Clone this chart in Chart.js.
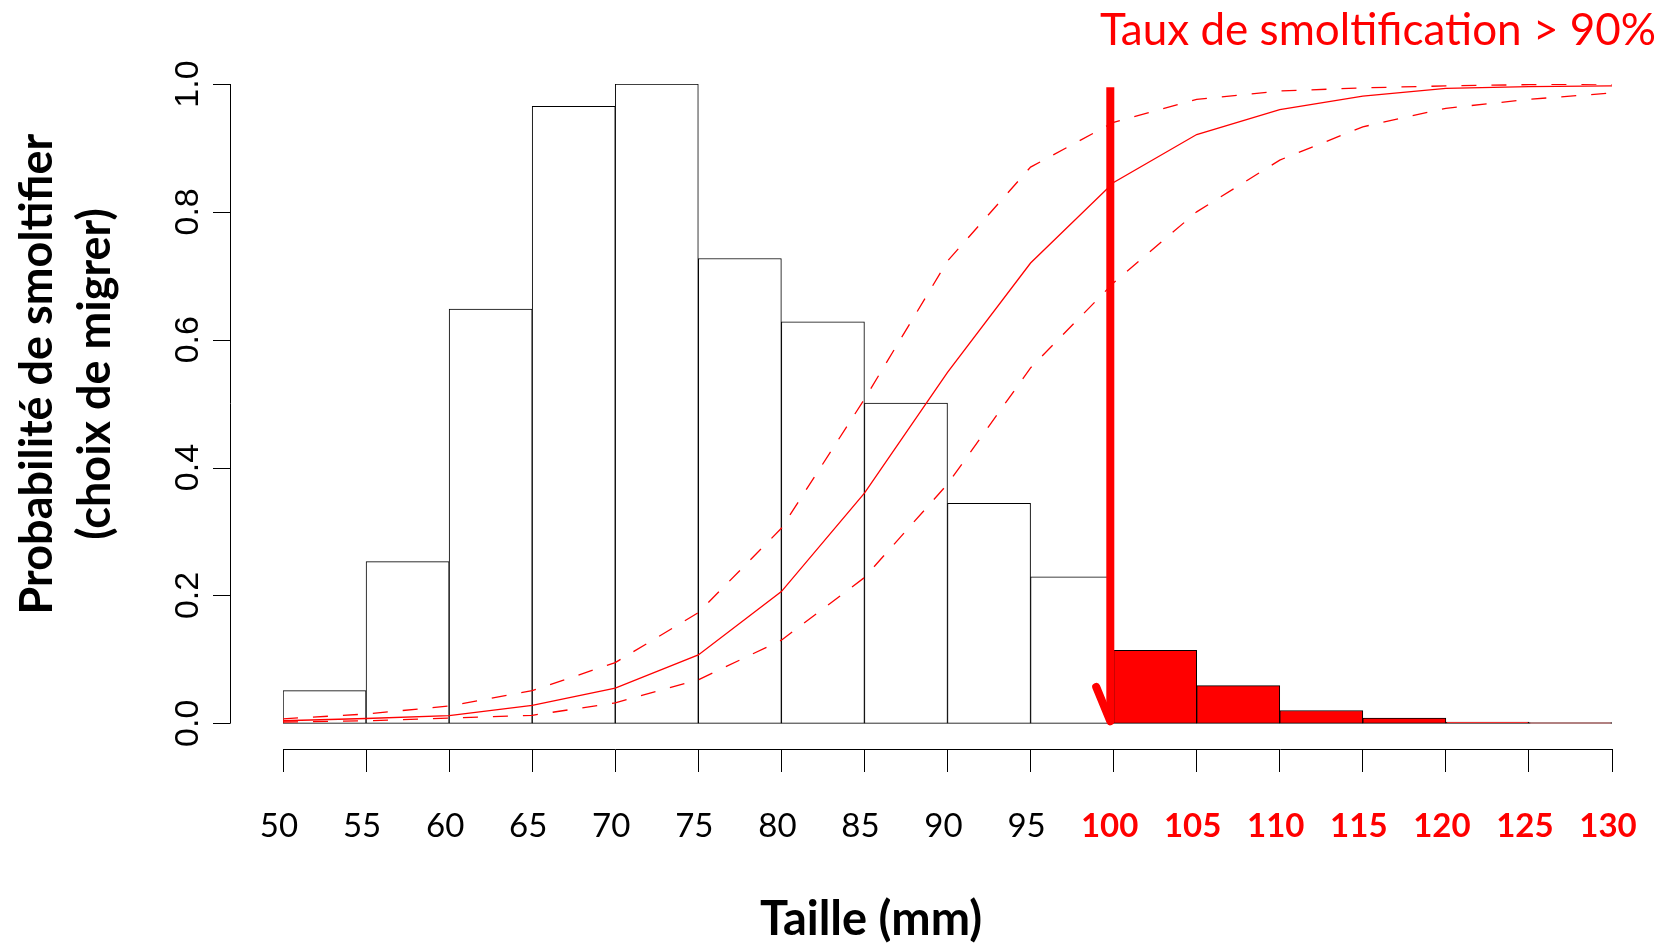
<!DOCTYPE html>
<html lang="fr">
<head>
<meta charset="utf-8" />
<title>Probabilité de smoltifier</title>
<script src="https://cdn.jsdelivr.net/npm/chart.js"></script>
<style>
  html, body { margin: 0; padding: 0; background: #fff; }
  #chart { display: block; }
</style>
</head>
<body>
<canvas id="chart" width="1670" height="948"></canvas>
<script>
    // Classes de taille (mm) et graduations
    const sizeTicks = [50, 55, 60, 65, 70, 75, 80, 85, 90, 95, 100, 105, 110, 115, 120, 125, 130];
    const binCenters = [52.5, 57.5, 62.5, 67.5, 72.5, 77.5, 82.5, 87.5, 92.5, 97.5, 102.5, 107.5, 112.5, 117.5, 122.5, 127.5];
    // Histogramme (hauteurs relatives)
    const barValues = [0.051, 0.253, 0.648, 0.965, 1.0, 0.727, 0.628, 0.501, 0.344, 0.229, 0.114, 0.059, 0.020, 0.008, 0.002, 0.001];
    // Probabilite de smoltifier : moyenne et intervalle
    const probMean  = [0.004, 0.0075, 0.012, 0.028, 0.055, 0.107, 0.206, 0.360, 0.549, 0.720, 0.846, 0.921, 0.960, 0.981, 0.993, 0.996, 0.997];
    const probUpper = [0.007, 0.0145, 0.027, 0.051, 0.095, 0.173, 0.305, 0.507, 0.723, 0.870, 0.940, 0.976, 0.989, 0.994, 0.997, 0.999, 1.0];
    const probLower = [0.002, 0.004, 0.008, 0.0125, 0.032, 0.068, 0.130, 0.228, 0.374, 0.556, 0.689, 0.800, 0.881, 0.933, 0.962, 0.976, 0.986];
    const yTicks = [0, 0.2, 0.4, 0.6, 0.8, 1.0];
    const yTickLabels = ['0.0', '0.2', '0.4', '0.6', '0.8', '1.0'];
    const threshold = 100;   // classes >= 100 mm en rouge
    // fleche : x, haut, extremite de la pointe
    const arrowX = 99.8, arrowTop = 0.995, arrowHeadX = 98.95, arrowHeadY = 0.057;

    const RED = '#ff0000';

    const points = (ys) => sizeTicks.map((x, i) => ({ x: x, y: ys[i] }));
    const isRed = (c) => !!(c.tick && c.tick.value >= threshold);

    // axe y, titres et fleche (dessines a partir des echelles)
    const extras = {
        id: 'extras',
        afterDatasetsDraw(chart) {
            const ctx = chart.ctx, xs = chart.scales.x, ys = chart.scales.y;
            ctx.save();
            ctx.strokeStyle = RED;
            ctx.lineWidth = 8;
            ctx.lineCap = 'butt';
            ctx.beginPath();
            ctx.moveTo(xs.getPixelForValue(arrowX), ys.getPixelForValue(arrowTop));
            ctx.lineTo(xs.getPixelForValue(arrowX), ys.getPixelForValue(0) - 2);
            ctx.stroke();
            ctx.lineCap = 'round';
            ctx.beginPath();
            ctx.moveTo(xs.getPixelForValue(arrowHeadX), ys.getPixelForValue(arrowHeadY));
            ctx.lineTo(xs.getPixelForValue(arrowX), ys.getPixelForValue(0) - 2);
            ctx.stroke();
            ctx.restore();
        },
        afterDraw(chart) {
            const ctx = chart.ctx, ys = chart.scales.y;
            const axisX = chart.chartArea.left - 53;
            ctx.save();
            // axe y
            ctx.strokeStyle = '#000';
            ctx.lineWidth = 1;
            ctx.beginPath();
            ctx.moveTo(axisX + 0.5, ys.getPixelForValue(yTicks[0]));
            ctx.lineTo(axisX + 0.5, ys.getPixelForValue(yTicks[yTicks.length - 1]));
            yTicks.forEach(v => {
                const py = Math.round(ys.getPixelForValue(v)) + 0.5;
                ctx.moveTo(axisX + 0.5, py);
                ctx.lineTo(axisX - 17, py);
            });
            ctx.stroke();
            ctx.fillStyle = '#000';
            ctx.font = '34px "Liberation Sans", Arial, sans-serif';
            ctx.textAlign = 'center';
            ctx.textBaseline = 'middle';
            yTicks.forEach((v, i) => {
                ctx.save();
                ctx.translate(axisX - 43, ys.getPixelForValue(v));
                ctx.rotate(-Math.PI / 2);
                ctx.fillText(yTickLabels[i], 0, 2);
                ctx.restore();
            });
            // titre de l'axe y
            ctx.font = 'bold 45px Lato, "Open Sans", sans-serif';
            ctx.textBaseline = 'alphabetic';
            ctx.save();
            ctx.translate(52, 374);
            ctx.rotate(-Math.PI / 2);
            ctx.fillText('Probabilité de smoltifier', 0, 0);
            ctx.fillText('(choix de migrer)', 0, 58);
            ctx.restore();
            // titre de l'axe x
            ctx.font = 'bold 47px Lato, "Open Sans", sans-serif';
            ctx.fillText('Taille (mm)', 871, 935);
            // annotation
            ctx.fillStyle = RED;
            ctx.font = '44px Lato, "Open Sans", sans-serif';
            ctx.textAlign = 'right';
            ctx.fillText('Taux de smoltification > 90%', 1656, 45);
            ctx.restore();
        }
    };

    const chart = new Chart(document.getElementById('chart'), {
        type: 'bar',
        data: {
            datasets: [
                { type: 'line', data: points(probMean), borderColor: RED, borderWidth: 1.3, pointRadius: 0, tension: 0, order: 0 },
                { type: 'line', data: points(probUpper), borderColor: RED, borderWidth: 1.3, borderDash: [15, 15], pointRadius: 0, tension: 0, order: 0 },
                { type: 'line', data: points(probLower), borderColor: RED, borderWidth: 1.3, borderDash: [15, 15], pointRadius: 0, tension: 0, order: 0 },
                {
                    type: 'bar',
                    data: binCenters.map((x, i) => ({ x: x, y: barValues[i] })),
                    backgroundColor: binCenters.map(x => x > threshold ? RED : '#ffffff'),
                    borderColor: '#000',
                    borderWidth: 1,
                    borderSkipped: false,
                    barPercentage: 1,
                    categoryPercentage: 1,
                    order: 1
                }
            ]
        },
        options: {
            responsive: false,
            animation: false,
            devicePixelRatio: 1,
            layout: { padding: { left: 283, right: 58, top: 84, bottom: 0 } },
            plugins: { legend: { display: false }, tooltip: { enabled: false } },
            scales: {
                x: {
                    type: 'linear',
                    min: 50,
                    max: 130,
                    offset: false,
                    grid: { offset: false, drawOnChartArea: false, drawTicks: true, tickLength: 23, color: '#000', lineWidth: 1 },
                    border: { display: true, color: '#000', width: 1 },
                    ticks: {
                        stepSize: 5,
                        autoSkip: false,
                        maxRotation: 0,
                        padding: 35,
                        labelOffset: -4,
                        color: c => isRed(c) ? RED : '#000',
                        font: c => ({ family: 'Lato, "Open Sans", sans-serif', size: 33, weight: isRed(c) ? 'bold' : 'normal' })
                    },
                    afterFit: s => { s.height = 199; s.paddingLeft = 0; s.paddingRight = 0; }
                },
                y: {
                    display: false,
                    min: -0.0402,
                    max: 1
                }
            }
        },
        plugins: [extras]
    });
</script>
</body>
</html>
